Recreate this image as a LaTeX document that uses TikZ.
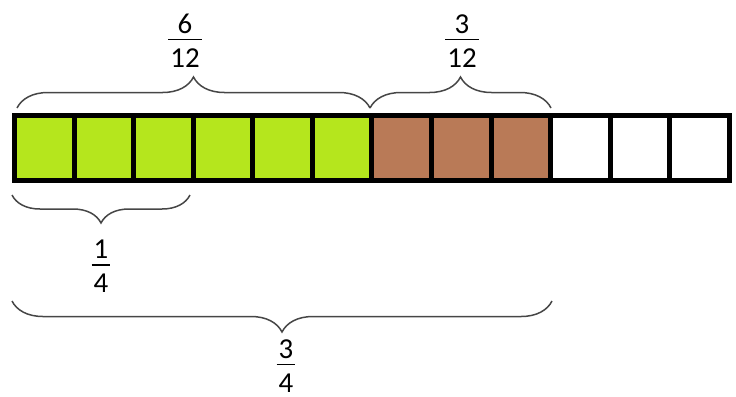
\documentclass[tikz,border=0pt]{standalone}
\usepackage{fontspec}
\setmainfont{Carlito}
\usetikzlibrary{decorations.pathreplacing}

\definecolor{paintgreen}{RGB}{181,230,29}
\definecolor{paintbrown}{RGB}{185,122,87}
\definecolor{bracegray}{RGB}{70,70,70}

\setlength{\arrayrulewidth}{1.5bp}
\newcommand{\frc}[2]{\begin{tabular}{@{\hspace{2bp}}c@{\hspace{2bp}}}#1\\[-5bp]\hline\rule{0pt}{27bp}#2\\[-10bp]\end{tabular}}

\tikzset{
  cell/.style={draw=black, line width=5bp, inner sep=0pt, minimum width=59.58bp, minimum height=65bp},
  curly/.style={draw=bracegray, line width=1.5bp, decorate, decoration={brace, amplitude=#1}},
  fraclabel/.style={inner sep=0pt, font=\fontsize{29}{34}\selectfont}
}

\begin{document}
\begin{tikzpicture}[x=1bp,y=-1bp]

\useasboundingbox (0,0) rectangle (736,396);

\foreach \i in {1,...,6}
    \node [cell, fill=paintgreen] (c\i) at ({14.5+(\i-0.5)*59.58},148) {};

\foreach \i in {7,8,9}
    \node [cell, fill=paintbrown] (c\i) at ({14.5+(\i-0.5)*59.58},148) {};

\foreach \i in {10,11,12}
    \node [cell, fill=white] (c\i) at ({14.5+(\i-0.5)*59.58},148) {};

\coordinate (a) at (17,108);
\coordinate (b) at (370,108);
\coordinate (c) at (551,108);
\coordinate (d) at (12,195);
\coordinate (e) at (190,195);
\coordinate (f) at (12,301);
\coordinate (g) at (552,301);

\draw [curly=31bp] (a) -- (b);
\draw [curly=31bp] (b) -- (c);
\draw [curly=28bp] (e) -- (d);
\draw [curly=31bp] (g) -- (f);

\node [fraclabel] (sixtwelfths) at (185,38.5) {\frc{6}{12}};
\node [fraclabel] (threetwelfths) at (462,38.5) {\frc{3}{12}};
\node [fraclabel] (onequarter) at (101,264) {\frc{1}{4}};
\node [fraclabel] (threequarters) at (286,363.5) {\frc{3}{4}};

\end{tikzpicture}
\end{document}
